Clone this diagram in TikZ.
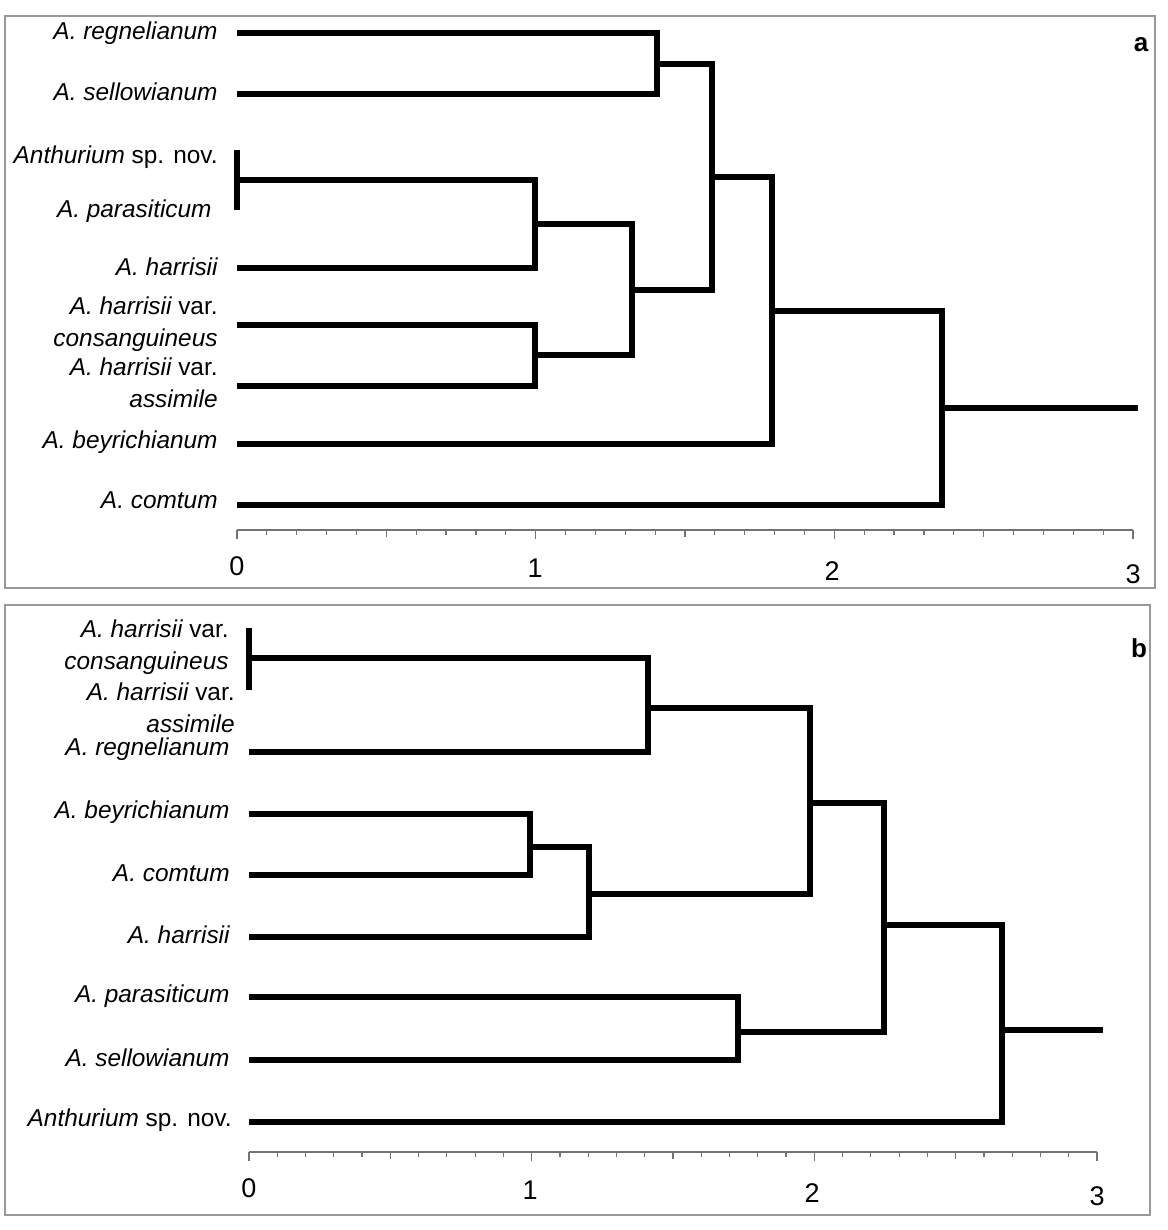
\documentclass[tikz,border=0pt]{standalone}
\usepackage{fontspec}
\setmainfont{Liberation Sans}
\begin{document}
\begin{tikzpicture}[x=0.5pt,y=-0.5pt,
  branch/.style={line width=2.6pt},
  frame/.style={draw=black!40,line width=0.6pt},
  axisline/.style={draw=black!55,line width=0.6pt},
  taxon/.style={anchor=east,inner sep=0pt,font=\fontsize{12.2}{14}\selectfont\itshape},
  taxonml/.style={anchor=east,inner sep=0pt,align=right,font=\fontsize{12.2}{16}\selectfont\itshape},
  ticklab/.style={inner sep=0pt,font=\fontsize{13.5}{15}\selectfont},
  panellab/.style={inner sep=0pt,font=\fontsize{13}{15}\selectfont\bfseries}]
\useasboundingbox (0,0) rectangle (1167,1230);
% frames
\draw[frame] (5,16) rectangle (1155,588);
\draw[frame] (5,605) rectangle (1150,1215);
\node[panellab] (pa) at (1141,45) {a};
\node[panellab] (pb) at (1139,648) {b};

% ---------------- panel a ----------------
\coordinate (a1) at (237,33);
\coordinate (a2) at (237,94);
\coordinate (a3) at (237,180);
\coordinate (a4) at (237,268);
\coordinate (a5) at (237,325);
\coordinate (a6) at (237,386);
\coordinate (a7) at (237,444);
\coordinate (a8) at (237,505);
\coordinate (ja) at (657,64);
\coordinate (jb) at (535,224);
\coordinate (jc) at (535,355);
\coordinate (jd) at (632,290);
\coordinate (je) at (712,177);
\coordinate (jf) at (772,311);
\coordinate (jg) at (942,408);
\coordinate (ra) at (1138,408);
\coordinate (a3t) at (237,150);
\coordinate (a3b) at (237,210);

\node[taxon] (ta1) at (218,33) {A. regnelianum};
\node[taxon] (ta2) at (218,92) {A. sellowianum};
\node[taxon] (ta3) at (218,157) {Anthurium\upshape\ sp. nov.};
\node[taxon] (ta3b) at (212,211) {A. parasiticum};
\node[taxon] (ta4) at (218,267) {A. harrisii};
\node[taxonml] (ta5) at (218,324) {A. harrisii \upshape var.\\consanguineus};
\node[taxonml] (ta6) at (218,383) {A. harrisii \upshape var.\\assimile};
\node[taxon] (ta7) at (218,442) {A. beyrichianum};
\node[taxon] (ta8) at (218,500) {A. comtum};

\draw[branch] (a3t) -- (a3b);
\draw[branch] (a1) -| (ja);
\draw[branch] (a2) -| (ja);
\draw[branch] (a3) -| (jb);
\draw[branch] (a4) -| (jb);
\draw[branch] (a5) -| (jc);
\draw[branch] (a6) -| (jc);
\draw[branch] (jb) -| (jd);
\draw[branch] (jc) -| (jd);
\draw[branch] (ja) -| (je);
\draw[branch] (jd) -| (je);
\draw[branch] (je) -| (jf);
\draw[branch] (a7) -| (jf);
\draw[branch] (jf) -| (jg);
\draw[branch] (a8) -| (jg);
\draw[branch] (jg) -- (ra);

% axis a
\coordinate (xa0) at (237,530);
\coordinate (xa3) at (1133,530);
\draw[axisline] (xa0) -- (xa3);
\foreach \i in {0,...,30}{
  \pgfmathsetmacro{\xx}{237+\i*29.867}
  \pgfmathsetmacro{\tl}{ifthenelse(mod(\i,10)==0,9,ifthenelse(mod(\i,5)==0,7,5))}
  \draw[axisline] (\xx,530) -- (\xx,530+\tl);
}
\node[ticklab] (la0) at (237,566) {0};
\node[ticklab] (la1) at (535,568) {1};
\node[ticklab] (la2) at (832,571) {2};
\node[ticklab] (la3) at (1133,574) {3};

% ---------------- panel b ----------------
\coordinate (b1) at (249,658);
\coordinate (b1t) at (249,628);
\coordinate (b1b) at (249,690);
\coordinate (b3) at (249,752);
\coordinate (b4) at (249,814);
\coordinate (b5) at (249,875);
\coordinate (b6) at (249,937);
\coordinate (b7) at (249,997);
\coordinate (b8) at (249,1060);
\coordinate (b9) at (249,1122);
\coordinate (ka) at (648,708);
\coordinate (kb) at (530,847);
\coordinate (kc) at (589,894);
\coordinate (kd) at (810,803);
\coordinate (ke) at (738,1032);
\coordinate (kf) at (884,925);
\coordinate (kg) at (1002,1030);
\coordinate (rb) at (1103,1030);

\node[taxonml] (tb1) at (229,647) {A. harrisii \upshape var.\\consanguineus};
\node[taxonml] (tb2) at (235,708) {A. harrisii \upshape var.\\assimile};
\node[taxon] (tb3) at (230,749) {A. regnelianum};
\node[taxon] (tb4) at (230,812) {A. beyrichianum};
\node[taxon] (tb5) at (230,873) {A. comtum};
\node[taxon] (tb6) at (230,935) {A. harrisii};
\node[taxon] (tb7) at (230,996) {A. parasiticum};
\node[taxon] (tb8) at (230,1058) {A. sellowianum};
\node[taxon] (tb9) at (232,1120) {Anthurium\upshape\ sp. nov.};

\draw[branch] (b1t) -- (b1b);
\draw[branch] (b1) -| (ka);
\draw[branch] (b3) -| (ka);
\draw[branch] (b4) -| (kb);
\draw[branch] (b5) -| (kb);
\draw[branch] (kb) -| (kc);
\draw[branch] (b6) -| (kc);
\draw[branch] (ka) -| (kd);
\draw[branch] (kc) -| (kd);
\draw[branch] (b7) -| (ke);
\draw[branch] (b8) -| (ke);
\draw[branch] (kd) -| (kf);
\draw[branch] (ke) -| (kf);
\draw[branch] (kf) -| (kg);
\draw[branch] (b9) -| (kg);
\draw[branch] (kg) -- (rb);

% axis b
\coordinate (xb0) at (249,1152);
\coordinate (xb3) at (1097,1152);
\draw[axisline] (xb0) -- (xb3);
\foreach \i in {0,...,30}{
  \pgfmathsetmacro{\xx}{249+\i*28.267}
  \pgfmathsetmacro{\tl}{ifthenelse(mod(\i,10)==0,9,ifthenelse(mod(\i,5)==0,7,5))}
  \draw[axisline] (\xx,1152) -- (\xx,1152+\tl);
}
\node[ticklab] (lb0) at (249,1188) {0};
\node[ticklab] (lb1) at (530,1190) {1};
\node[ticklab] (lb2) at (812,1193) {2};
\node[ticklab] (lb3) at (1097,1196) {3};
\end{tikzpicture}
\end{document}
